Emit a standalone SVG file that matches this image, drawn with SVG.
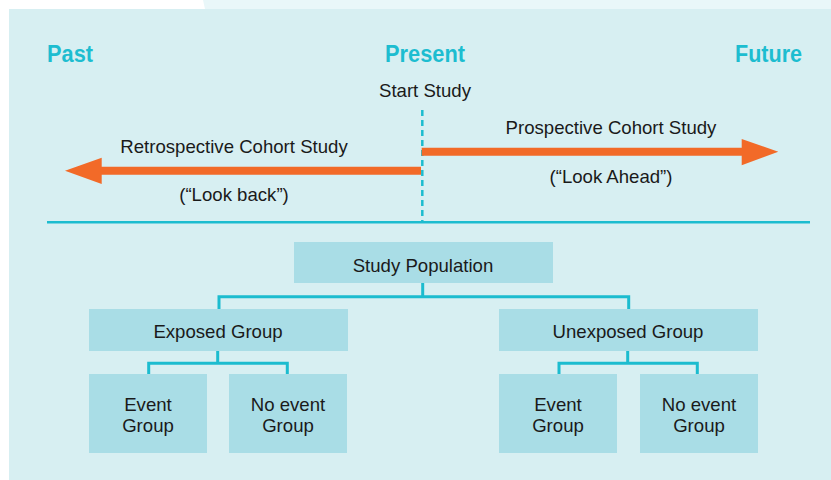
<svg xmlns="http://www.w3.org/2000/svg" width="831" height="480" viewBox="0 0 831 480">
<style>
.t{font-family:"Liberation Sans",Arial,sans-serif;font-size:18.6px;fill:#1a1a1a;text-anchor:middle}
.h{font-family:"Liberation Sans",Arial,sans-serif;font-size:24px;font-weight:bold;fill:#1dbdd0}
.box{fill:#a9dde6}
.con{fill:none;stroke:#1cbccf;stroke-width:3}
.arr{fill:#f26a28}
</style>
<polygon points="203,0 831,0 831,9 205,9" fill="#e9f7f9"/>
<rect x="9" y="9" width="822" height="471" fill="#d7eff2"/>
<g id="timeline">
<text class="h" x="47" y="61.5" textLength="46" lengthAdjust="spacingAndGlyphs">Past</text>
<text class="h" x="385" y="61.5" textLength="80" lengthAdjust="spacingAndGlyphs">Present</text>
<text class="h" x="735" y="61.5" textLength="67" lengthAdjust="spacingAndGlyphs">Future</text>
<text class="t" x="425" y="96.5">Start Study</text>
<line x1="422.3" y1="110" x2="422.3" y2="222" stroke="#1cbccf" stroke-width="2.5" stroke-dasharray="6,4"/>
<line x1="47" y1="222.3" x2="810" y2="222.3" stroke="#1cbccf" stroke-width="2.5"/>
</g>
<g id="retro">
<polygon class="arr" points="421,166.7 101.7,166.7 101.7,157.7 65,170.7 101.7,184 101.7,174.7 421,174.7"/>
<text class="t" x="234" y="153.3">Retrospective Cohort Study</text>
<text class="t" x="234" y="201">(“Look back”)</text>
</g>
<g id="prosp">
<polygon class="arr" points="421.7,147.7 741.7,147.7 741.7,139 778.3,151.7 741.7,165.3 741.7,155.7 421.7,155.7"/>
<text class="t" x="611" y="134.3">Prospective Cohort Study</text>
<text class="t" x="611" y="183">(“Look Ahead”)</text>
</g>
<g id="connectors">
<path class="con" d="M422.7,283 V296.7 M219,309 V296.7 H628.7 V309"/>
<path class="con" d="M217.7,351 V363.3 M148.7,374 V363.3 H287.3 V374"/>
<path class="con" d="M627.7,351 V363.3 M559,374 V363.3 H697.3 V374"/>
</g>
<g id="study-population">
<rect class="box" x="294" y="242" width="259" height="41"/>
<text class="t" x="423" y="271.5">Study Population</text>
</g>
<g id="exposed">
<rect class="box" x="89" y="309" width="259" height="42"/>
<text class="t" x="218" y="338.3">Exposed Group</text>
</g>
<g id="unexposed">
<rect class="box" x="499" y="309" width="259" height="42"/>
<text class="t" x="628" y="338.3">Unexposed Group</text>
</g>
<g id="exp-event">
<rect class="box" x="89" y="374" width="118" height="79"/>
<text class="t" x="148" y="411">Event</text>
<text class="t" x="148" y="432">Group</text>
</g>
<g id="exp-noevent">
<rect class="box" x="229" y="374" width="118" height="79"/>
<text class="t" x="288" y="411">No event</text>
<text class="t" x="288" y="432">Group</text>
</g>
<g id="unexp-event">
<rect class="box" x="499" y="374" width="118" height="79"/>
<text class="t" x="558" y="411">Event</text>
<text class="t" x="558" y="432">Group</text>
</g>
<g id="unexp-noevent">
<rect class="box" x="640" y="374" width="118" height="79"/>
<text class="t" x="699" y="411">No event</text>
<text class="t" x="699" y="432">Group</text>
</g>
</svg>
